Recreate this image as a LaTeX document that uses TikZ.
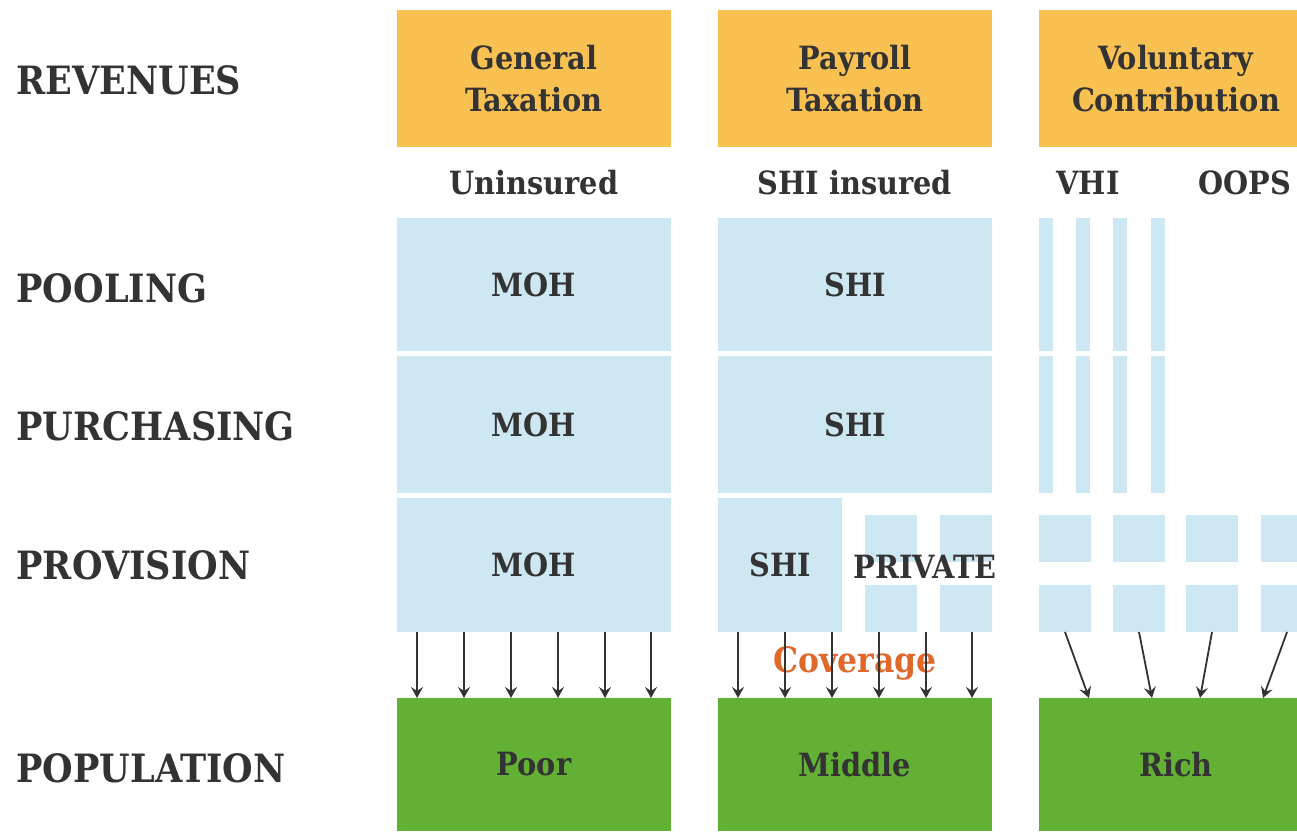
\documentclass[tikz,border=0pt]{standalone}
\usepackage{fontspec}
\setmainfont{DejaVu Serif Condensed}
\usetikzlibrary{arrows.meta,calc}
\definecolor{revorange}{HTML}{F9C152}
\definecolor{poolblue}{HTML}{CDE7F3}
\definecolor{popgreen}{HTML}{62B135}
\definecolor{covorange}{HTML}{E0682A}
\definecolor{inkgray}{HTML}{333333}

\begin{document}
\begin{tikzpicture}[x=1pt,y=-1pt]
  \tikzset{
    rowlabel/.style={
      anchor=west,
      text=inkgray,
      font=\bfseries\fontsize{39}{39}\selectfont
    },
    boxbase/.style={
      anchor=north west,
      inner sep=0pt,
      outer sep=0pt,
      text=inkgray,
      align=center,
      font=\bfseries\fontsize{32}{42}\selectfont
    },
    revbox/.style={boxbase, fill=revorange, minimum width=274pt, minimum height=137pt},
    bluebox/.style={boxbase, fill=poolblue, minimum width=274pt, minimum height=#1},
    popbox/.style={boxbase, fill=popgreen, minimum width=274pt, minimum height=133pt},
    stripe/.style={boxbase, fill=poolblue, minimum width=14pt, minimum height=#1},
    tile/.style={boxbase, fill=poolblue, minimum width=52pt, minimum height=47pt},
    collabel/.style={text=inkgray, font=\bfseries\fontsize{32}{32}\selectfont},
    cover/.style={draw=inkgray, line width=1.8pt, -{Stealth[length=11pt,width=12pt,inset=4pt]}}
  }

  \clip (0,0) rectangle (1297,831);

  % row labels
  \node[rowlabel] (revenues) at (13,80) {REVENUES};
  \node[rowlabel] (pooling) at (13,288) {POOLING};
  \node[rowlabel] (purchasing) at (13,426) {PURCHASING};
  \node[rowlabel] (provision) at (13,565) {PROVISION};
  \node[rowlabel] (population) at (13,768) {POPULATION};

  % revenues
  \node[revbox] (gentax) at (397,10) {General\\Taxation};
  \node[revbox] (paytax) at (718,10) {Payroll\\Taxation};
  \node[revbox] (volcon) at (1039,10) {Voluntary\\Contribution};

  \node[collabel] (uninsured) at (534,183) {Uninsured};
  \node[collabel] (shiins) at (855,183) {SHI insured};
  \node[collabel] (vhi) at (1088,183) {VHI};
  \node[collabel] (oops) at (1245,183) {OOPS};

  % general taxation column
  \node[bluebox=133pt] (moh1) at (397,218) {MOH};
  \node[bluebox=137pt] (moh2) at (397,356) {MOH};
  \node[bluebox=134pt] (moh3) at (397,498) {MOH};

  % payroll column
  \node[bluebox=133pt] (shi1) at (718,218) {SHI};
  \node[bluebox=137pt] (shi2) at (718,356) {SHI};
  \node[bluebox=134pt, minimum width=124pt] (shi3) at (718,498) {SHI};
  \node[tile] (priv1) at (865,515) {};
  \node[tile] (priv2) at (940,515) {};
  \node[tile] (priv3) at (865,585) {};
  \node[tile] (priv4) at (940,585) {};
  \node[collabel] (private) at (925,567) {PRIVATE};

  % voluntary column
  \foreach \x [count=\i] in {1039,1076,1113,1151} {
    \node[stripe=133pt] (vhipool\i) at (\x,218) {};
    \node[stripe=137pt] (vhipur\i) at (\x,356) {};
  }
  \foreach \x [count=\i] in {1039,1113,1186,1261} {
    \node[tile] (sqtop\i) at (\x,515) {};
    \node[tile] (sqlow\i) at (\x,585) {};
  }

  % population
  \node[popbox] (poor) at (397,698) {Poor};
  \node[popbox] (middle) at (718,698) {Middle};
  \node[popbox] (rich) at (1039,698) {Rich};

  \node[text=covorange, font=\bfseries\fontsize{35}{35}\selectfont] (coverage) at (855,663) {Coverage};

  % coverage arrows
  \foreach \dx in {20,67,114,161,208,254} {
    \draw[cover] ($(moh3.south west)+(\dx,0)$) -- ($(poor.north west)+(\dx,0)$);
    \draw[cover] ($(shi3.south west)+(\dx,0)$) -- ($(middle.north west)+(\dx,0)$);
  }
  \foreach \i/\dx in {1/50,2/113,3/161,4/224} {
    \draw[cover] (sqlow\i.south) -- ($(rich.north west)+(\dx,0)$);
  }
\end{tikzpicture}
\end{document}
